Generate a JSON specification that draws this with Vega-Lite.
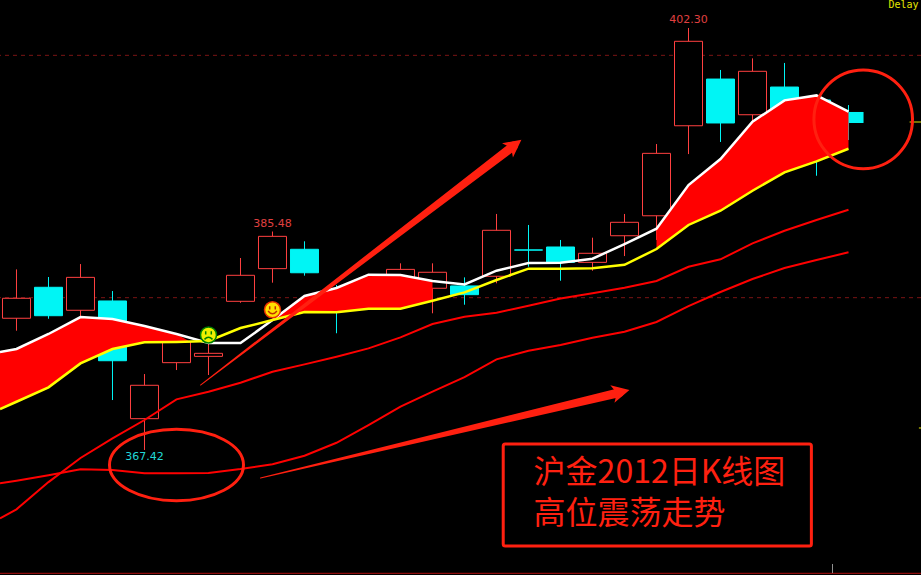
{
"$schema":"https://vega.github.io/schema/vega-lite/v6.json",
"width":921,"height":575,"padding":0,
"autosize":"none",
"background":"#000000",
"config":{"view":{"stroke":null},"axis":{"grid":false}},
"datasets":{
"candles":[
{"t":0,"dir":"up","open":378.31,"close":379.96,"high":382.35,"low":377.28},
{"t":1,"dir":"down","open":380.87,"close":378.52,"high":381.72,"low":378.27},
{"t":2,"dir":"up","open":378.97,"close":381.69,"high":382.79,"low":378.44},
{"t":3,"dir":"down","open":379.74,"close":374.80,"high":380.56,"low":371.55},
{"t":4,"dir":"up","open":370.01,"close":372.77,"high":373.70,"low":367.42},
{"t":5,"dir":"up","open":374.64,"close":376.35,"high":376.93,"low":374.03},
{"t":6,"dir":"up","open":375.16,"close":375.41,"high":376.26,"low":373.62},
{"t":7,"dir":"up","open":379.71,"close":381.86,"high":383.29,"low":379.59},
{"t":8,"dir":"up","open":382.41,"close":385.08,"high":385.48,"low":381.25},
{"t":9,"dir":"down","open":384.01,"close":382.07,"high":384.67,"low":381.83},
{"t":10,"dir":"down","open":380.23,"close":379.00,"high":381.06,"low":377.07},
{"t":11,"dir":"up","open":379.82,"close":381.47,"high":381.89,"low":379.40},
{"t":12,"dir":"up","open":379.82,"close":382.35,"high":382.85,"low":379.40},
{"t":13,"dir":"up","open":380.79,"close":382.11,"high":382.85,"low":378.72},
{"t":14,"dir":"down","open":380.98,"close":380.26,"high":381.69,"low":379.43},
{"t":15,"dir":"up","open":381.78,"close":385.58,"high":386.93,"low":381.20},
{"t":16,"dir":"down","open":383.96,"close":383.94,"high":386.02,"low":382.57},
{"t":17,"dir":"down","open":384.20,"close":382.93,"high":384.78,"low":381.41},
{"t":18,"dir":"up","open":382.93,"close":383.68,"high":384.97,"low":382.24},
{"t":19,"dir":"up","open":385.13,"close":386.24,"high":386.93,"low":383.45},
{"t":20,"dir":"up","open":386.78,"close":391.94,"high":392.71,"low":384.78},
{"t":21,"dir":"up","open":394.22,"close":401.20,"high":402.30,"low":391.88},
{"t":22,"dir":"down","open":398.08,"close":394.45,"high":398.83,"low":392.88},
{"t":23,"dir":"up","open":395.13,"close":398.72,"high":399.79,"low":394.28},
{"t":24,"dir":"down","open":397.42,"close":395.36,"high":399.41,"low":394.69},
{"t":25,"dir":"down","open":396.35,"close":392.22,"high":396.76,"low":390.09}
],
"current":[{"t":26,"t2":26.47,"open":395.36,"close":394.45,"high":395.93,"low":393.04}],
"ma":[
{"t":-0.5156,"white":375.52,"yellow":370.81,"red1":361.77,"red2":364.67},
{"t":0,"white":375.77,"yellow":371.41,"red1":362.52,"red2":364.88},
{"t":1,"white":377.01,"yellow":372.60,"red1":364.77,"red2":365.33},
{"t":2,"white":378.41,"yellow":374.58,"red1":366.76,"red2":365.82},
{"t":3,"white":378.25,"yellow":375.77,"red1":368.38,"red2":365.76},
{"t":4,"white":377.67,"yellow":376.32,"red1":369.90,"red2":365.49},
{"t":5,"white":377.01,"yellow":376.35,"red1":371.61,"red2":365.49},
{"t":6,"white":376.26,"yellow":376.43,"red1":372.24,"red2":365.52},
{"t":7,"white":376.26,"yellow":377.50,"red1":372.98,"red2":365.85},
{"t":8,"white":378.16,"yellow":378.16,"red1":373.89,"red2":366.24},
{"t":9,"white":380.15,"yellow":378.82,"red1":374.50,"red2":366.95},
{"t":10,"white":380.81,"yellow":378.80,"red1":375.13,"red2":368.02},
{"t":11,"white":381.91,"yellow":379.10,"red1":375.82,"red2":369.48},
{"t":12,"white":381.88,"yellow":379.10,"red1":376.73,"red2":371.00},
{"t":13,"white":381.39,"yellow":379.76,"red1":377.83,"red2":372.24},
{"t":14,"white":381.11,"yellow":380.45,"red1":378.43,"red2":373.45},
{"t":15,"white":382.24,"yellow":381.47,"red1":378.77,"red2":374.91},
{"t":16,"white":382.87,"yellow":382.41,"red1":379.34,"red2":375.62},
{"t":17,"white":382.90,"yellow":382.41,"red1":379.94,"red2":376.10},
{"t":18,"white":383.23,"yellow":382.44,"red1":380.37,"red2":376.70},
{"t":19,"white":384.44,"yellow":382.73,"red1":380.83,"red2":377.19},
{"t":20,"white":385.71,"yellow":384.03,"red1":381.39,"red2":378.00},
{"t":21,"white":389.32,"yellow":386.02,"red1":382.57,"red2":379.32},
{"t":22,"white":391.47,"yellow":387.20,"red1":383.18,"red2":380.48},
{"t":23,"white":394.55,"yellow":388.85,"red1":384.50,"red2":381.55},
{"t":24,"white":396.32,"yellow":390.37,"red1":385.54,"red2":382.46},
{"t":25,"white":396.73,"yellow":391.28,"red1":386.43,"red2":383.12},
{"t":26,"white":395.38,"yellow":392.32,"red1":387.28,"red2":383.76}
],
"fill":[
{"seg":"a","t":-0.5156,"white":375.52,"yellow":370.81},
{"seg":"a","t":0,"white":375.77,"yellow":371.41},
{"seg":"a","t":1,"white":377.01,"yellow":372.60},
{"seg":"a","t":2,"white":378.41,"yellow":374.58},
{"seg":"a","t":3,"white":378.25,"yellow":375.77},
{"seg":"a","t":4,"white":377.67,"yellow":376.32},
{"seg":"a","t":5,"white":377.01,"yellow":376.35},
{"seg":"a","t":5.44,"white":376.35,"yellow":376.35},
{"seg":"b","t":8,"white":378.16,"yellow":378.16},
{"seg":"b","t":9,"white":380.15,"yellow":378.82},
{"seg":"b","t":10,"white":380.81,"yellow":378.80},
{"seg":"b","t":11,"white":381.91,"yellow":379.10},
{"seg":"b","t":12,"white":381.88,"yellow":379.10},
{"seg":"b","t":13,"white":381.39,"yellow":379.76},
{"seg":"c","t":20,"white":385.71,"yellow":384.03},
{"seg":"c","t":21,"white":389.32,"yellow":386.02},
{"seg":"c","t":22,"white":391.47,"yellow":387.20},
{"seg":"c","t":23,"white":394.55,"yellow":388.85},
{"seg":"c","t":24,"white":396.32,"yellow":390.37},
{"seg":"c","t":25,"white":396.73,"yellow":391.28},
{"seg":"c","t":26,"white":395.38,"yellow":392.32}
]
},
"encoding":{
"x":{"field":"t","type":"quantitative","scale":{"domain":[-0.5156,28.2656],"nice":false,"zero":false,"padding":0},"axis":null},
"y":{"field":"p","type":"quantitative","scale":{"domain":[357.09,404.614],"nice":false,"zero":false,"padding":0},"axis":null}
},
"layer":[
{"data":{"values":[{"level":400.04},{"level":380.01}]},
 "mark":{"type":"rule","color":"#7a1414","strokeWidth":1,"strokeDash":[4,4]},
 "encoding":{"x":null,"y":{"field":"level","type":"quantitative"}}},
{"data":{"values":[{"p":357.23}]},
 "mark":{"type":"rule","color":"#b01010","strokeWidth":1},
 "encoding":{"x":null}},
{"data":{"values":[{"t":25.5,"p":358.0,"p2":357.25}]},
 "mark":{"type":"rule","color":"#909090","strokeWidth":1},
 "encoding":{"y2":{"field":"p2"}}},
{"data":{"values":[{"t":27.91,"t2":28.2656,"p":394.53},{"t":28.2,"t2":28.2656,"p":369.24}]},
 "mark":{"type":"rule","color":"#e6e600","strokeWidth":1},
 "encoding":{"x2":{"field":"t2"}}},
{"data":{"name":"candles"},
 "transform":[{"filter":"datum.dir==='up'"}],
 "mark":{"type":"rule","color":"#ff4040","strokeWidth":1},
 "encoding":{"y":{"field":"high","type":"quantitative"},"y2":{"field":"low"}}},
{"data":{"name":"candles"},
 "transform":[{"filter":"datum.dir==='down'"}],
 "mark":{"type":"rule","color":"#00f5f5","strokeWidth":1},
 "encoding":{"y":{"field":"high","type":"quantitative"},"y2":{"field":"low"}}},
{"data":{"name":"current"},
 "mark":{"type":"rule","color":"#00f5f5","strokeWidth":1},
 "encoding":{"y":{"field":"high","type":"quantitative"},"y2":{"field":"low"}}},
{"data":{"name":"candles"},
 "transform":[{"filter":"datum.dir==='up'"}],
 "mark":{"type":"bar","size":28,"fill":"#000000","stroke":"#ff4040","strokeWidth":1},
 "encoding":{"y":{"field":"open","type":"quantitative"},"y2":{"field":"close"}}},
{"data":{"name":"candles"},
 "transform":[{"filter":"datum.dir==='down'"}],
 "mark":{"type":"bar","size":28,"fill":"#00f5f5","stroke":"#00f5f5","strokeWidth":1},
 "encoding":{"y":{"field":"open","type":"quantitative"},"y2":{"field":"close"}}},
{"data":{"name":"current"},
 "mark":{"type":"rect","fill":"#00f5f5"},
 "encoding":{"x2":{"field":"t2"},"y":{"field":"open","type":"quantitative"},"y2":{"field":"close"}}},
{"data":{"name":"fill"},
 "mark":{"type":"area","color":"#ff0000","interpolate":"linear"},
 "encoding":{"detail":{"field":"seg"},"y":{"field":"white","type":"quantitative"},"y2":{"field":"yellow"}}},
{"data":{"name":"ma"},
 "mark":{"type":"line","color":"#ff0000","strokeWidth":2},
 "encoding":{"y":{"field":"red1","type":"quantitative"}}},
{"data":{"name":"ma"},
 "mark":{"type":"line","color":"#ff0000","strokeWidth":2},
 "encoding":{"y":{"field":"red2","type":"quantitative"}}},
{"data":{"name":"ma"},
 "mark":{"type":"line","color":"#ffffff","strokeWidth":2.5},
 "encoding":{"y":{"field":"white","type":"quantitative"}}},
{"data":{"name":"ma"},
 "mark":{"type":"line","color":"#ffff00","strokeWidth":2.5},
 "encoding":{"y":{"field":"yellow","type":"quantitative"}}},
{"data":{"values":[{"t":5.75,"p":372.79,"f":0},{"t":15.53,"p":392.55,"f":1}]},
 "mark":{"type":"trail","color":"#ff2010"},
 "encoding":{"size":{"field":"f","type":"quantitative","scale":{"domain":[0,1],"range":[1,9]},"legend":null}}},
{"data":{"values":[{"t":7.625,"p":365.10,"f":0},{"t":18.84,"p":372.17,"f":1}]},
 "mark":{"type":"trail","color":"#ff2010"},
 "encoding":{"size":{"field":"f","type":"quantitative","scale":{"domain":[0,1],"range":[1,9]},"legend":null}}},
{"data":{"values":[{"t":15.53,"p":392.56}]},
 "mark":{"type":"point","shape":"M0,-1L0.9,0.75L0,0.3L-0.9,0.75Z","size":400,"angle":52.7,"filled":true,"color":"#ff2010","opacity":1},
 "encoding":{}},
{"data":{"values":[{"t":18.85,"p":372.19}]},
 "mark":{"type":"point","shape":"M0,-1L0.9,0.75L0,0.3L-0.9,0.75Z","size":400,"angle":76.8,"filled":true,"color":"#ff2010","opacity":1},
 "encoding":{}},
{"data":{"values":[{"t":26.46,"p":394.75}]},
 "mark":{"type":"point","shape":"circle","size":9722,"filled":false,"stroke":"#ff2010","strokeWidth":3,"opacity":1},
 "encoding":{}},
{"data":{"values":[{"t":5,"p":366.18}]},
 "mark":{"type":"point","shape":"M-1,0A1,0.533 0 1 1 1,0A1,0.533 0 1 1 -1,0Z","size":17956,"filled":false,"stroke":"#ff2010","strokeWidth":3,"opacity":1},
 "encoding":{}},
{"data":{"values":[{"t":15.21,"t2":24.84,"p":367.91,"p2":359.49}]},
 "mark":{"type":"rect","fill":null,"stroke":"#ff2010","strokeWidth":3,"cornerRadius":2},
 "encoding":{"x2":{"field":"t2"},"y2":{"field":"p2"}}},
{"data":{"values":[{"t":16.16,"p":365.52,"label":"沪金2012日K线图\n高位震荡走势"}]},
 "mark":{"type":"text","align":"left","baseline":"middle","font":"Noto Sans CJK SC","fontSize":32,"lineHeight":41,"lineBreak":"\n","color":"#ff2010"},
 "encoding":{"text":{"field":"label"}}},
{"data":{"values":[{"t":21,"p":402.96,"label":"402.30"},{"t":8,"p":386.10,"label":"385.48"}]},
 "mark":{"type":"text","align":"center","baseline":"middle","font":"DejaVu Sans","fontSize":11,"color":"#e04040"},
 "encoding":{"text":{"field":"label"}}},
{"data":{"values":[{"t":4,"p":366.84,"label":"367.42"}]},
 "mark":{"type":"text","align":"center","baseline":"middle","font":"DejaVu Sans","fontSize":11,"color":"#20d8d8"},
 "encoding":{"text":{"field":"label"}}},
{"data":{"values":[{"t":28.19,"p":404.2,"label":"Delay"}]},
 "mark":{"type":"text","align":"right","baseline":"middle","font":"DejaVu Sans Mono","fontSize":10,"color":"#e6e600"},
 "encoding":{"text":{"field":"label"}}},
{"data":{"values":[{"t":6,"p":376.93}]},
 "mark":{"type":"point","shape":"circle","size":256,"filled":true,"fill":"#f0f000","stroke":"#008000","strokeWidth":1.5,"opacity":1},
 "encoding":{}},
{"data":{"values":[{"t":6,"p":376.93}]},
 "mark":{"type":"point","shape":"M-0.35,-0.45V-0.05M0.35,-0.45V-0.05M-0.5,0.55Q0,0.05 0.5,0.55","size":256,"filled":false,"stroke":"#008000","strokeWidth":1.5,"opacity":1},
 "encoding":{}},
{"data":{"values":[{"t":8,"p":379.01}]},
 "mark":{"type":"point","shape":"circle","size":256,"filled":true,"fill":"#ffe000","stroke":"#e83000","strokeWidth":1.5,"opacity":1},
 "encoding":{}},
{"data":{"values":[{"t":8,"p":379.01}]},
 "mark":{"type":"point","shape":"M-0.35,-0.45V-0.05M0.35,-0.45V-0.05M-0.55,0.15Q0,0.85 0.55,0.15","size":256,"filled":false,"stroke":"#c03000","strokeWidth":1.5,"opacity":1},
 "encoding":{}}
]
}
